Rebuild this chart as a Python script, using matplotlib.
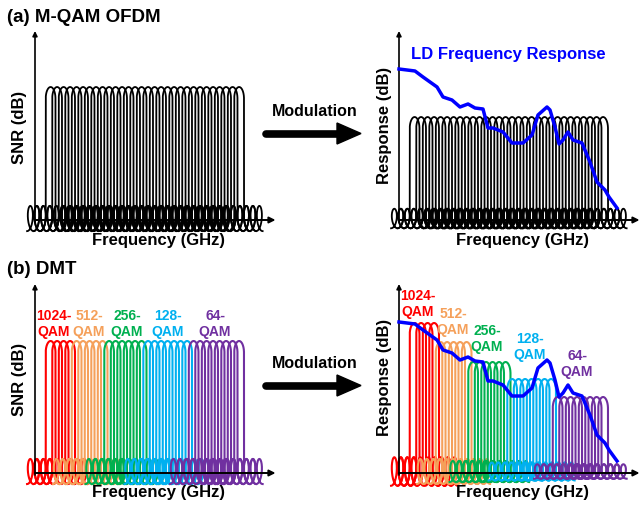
import numpy as np
import matplotlib.pyplot as plt

plt.rcParams['font.family'] = ['Liberation Sans', 'DejaVu Sans']
plt.rcParams['font.weight'] = 'bold'

# ---- data ----
n_sub = 30                      # number of OFDM subcarriers
first_sub = 2.4                 # centre of first subcarrier (GHz, schematic)
snr_flat = 26.6                 # SNR level of every subcarrier, panel (a) left
resp_flat = 20.6                # level after modulation, panel (a) right
snr_dmt = 26.4                  # SNR level, panel (b) left

qam_labels = ['1024-\nQAM', '512-\nQAM', '256-\nQAM', '128-\nQAM', '64-\nQAM']
qam_counts = [4, 5, 6, 7, 8]
qam_colors = ['#FF0000', '#F5A05A', '#00B050', '#00B0F0', '#7030A0']
qam_levels = [30.0, 26.2, 22.2, 18.8, 15.2]   # bit-loaded levels, panel (b) right

# LD frequency response
ld_freq = [0, 2.46, 3.69, 5.85, 6.77, 8.15, 9.38, 10.62, 11.69, 12.92, 13.69,
           14.46, 16.0, 17.38, 19.08, 20.46, 21.38, 22.77, 23.23, 24.0, 24.62,
           25.23, 26.0, 26.77, 28.15, 29.38, 30.46, 31.69, 32.31, 33.54]
ld_resp = [30.2, 29.8, 28.6, 26.6, 24.6, 24.0, 22.6, 23.2, 22.4, 22.2, 18.4,
           18.4, 17.6, 15.4, 15.4, 17.0, 21.0, 22.6, 22.0, 18.6, 15.2,
           16.0, 17.6, 16.0, 15.4, 11.6, 7.6, 6.0, 4.6, 2.4]

W, H = 639, 507
SX, SY = 6.5, 5.0               # pixels per unit

fig = plt.figure(figsize=(W / 100, H / 100), dpi=100)


def panel(ox, oy):
    l, r, t, b = ox - 38, ox + 240, oy - 200, oy + 30
    ax = fig.add_axes([l / W, 1 - b / H, (r - l) / W, (b - t) / H])
    ax.set_xlim((l - ox) / SX, (r - ox) / SX)
    ax.set_ylim((oy - b) / SY, (oy - t) / SY)
    ax.axis('off')
    # axes with arrows
    ax.annotate('', xy=(37.0, 0), xytext=(0, 0),
                arrowprops=dict(arrowstyle='-|>', lw=1.4, color='black',
                                mutation_scale=9, shrinkA=0, shrinkB=0))
    ax.annotate('', xy=(0, 37.8), xytext=(0, -0.4),
                arrowprops=dict(arrowstyle='-|>', lw=1.2, color='black',
                                mutation_scale=7, shrinkA=0, shrinkB=0))
    return ax


def subcarrier(ax, c, h, color, lw):
    a, rx, hr, n, v = 0.75, 0.62, 2.3, 2.25, 1.0
    ry = 0.095 * h
    yc = 0.3
    t = np.linspace(0, n, 240)
    th = np.pi + 2 * np.pi * t
    xr = c + a + rx + v * t + rx * np.cos(th)
    yr = yc + ry * np.sin(th)
    xl = 2 * c - xr[::-1]
    yl = yr[::-1]
    phi = np.linspace(np.pi, 0, 80)
    xa = c + a * np.cos(phi)
    ya = h - hr + hr * np.sin(phi)
    x = np.concatenate([xl, [c - a], xa, [c + a], xr])
    y = np.concatenate([yl, [yc], ya, [yc], yr])
    ax.plot(x, y, color=color, lw=lw, clip_on=False, solid_joinstyle='round')


centres = first_sub + np.arange(n_sub)

# (a) left
ax1 = panel(35, 220)
for c in centres:
    subcarrier(ax1, c, snr_flat, 'black', 1.3)

# (a) right
ax2 = panel(399, 220)
for c in centres:
    subcarrier(ax2, c, resp_flat, 'black', 1.3)
ax2.plot(ld_freq, ld_resp, color='#0000FF', lw=2.5, clip_on=False, zorder=5)

# (b) left and right
ax3 = panel(35, 473)
ax4 = panel(399, 473)
k = 0
for cnt, col, lev in zip(qam_counts, qam_colors, qam_levels):
    for j in range(cnt):
        subcarrier(ax3, centres[k], snr_dmt, col, 1.5)
        subcarrier(ax4, centres[k], lev, col, 1.5)
        k += 1
ax4.plot(ld_freq, ld_resp, color='#0000FF', lw=2.5, clip_on=False, zorder=5)

# overlay for texts and big arrows (pixel coordinates)
ov = fig.add_axes([0, 0, 1, 1], zorder=10)
ov.set_xlim(0, W)
ov.set_ylim(H, 0)
ov.axis('off')

ov.text(7, 18, '(a) M-QAM OFDM', fontsize=13.5, va='center', ha='left')
ov.text(7, 270, '(b) DMT', fontsize=13.5, va='center', ha='left')

for dy in (0, 252):
    ov.text(20, 127 + dy, 'SNR (dB)', fontsize=12, rotation=90, va='center', ha='center')
    ov.text(385, 125 + dy, 'Response (dB)', fontsize=12, rotation=90, va='center', ha='center')
    ov.text(158, 240 + dy, 'Frequency (GHz)', fontsize=12, va='center', ha='center')
    ov.text(523, 240 + dy, 'Frequency (GHz)', fontsize=12, va='center', ha='center')
    ov.text(315, 112 + dy, 'Modulation', fontsize=11.5, va='center', ha='center')
    ov.plot([266, 340], [133.5 + dy, 133.5 + dy], color='black', lw=5.5,
            solid_capstyle='round')
    ov.fill([337, 361, 337], [123 + dy, 133.5 + dy, 144 + dy], color='black')

ov.text(411, 55, 'LD Frequency Response', fontsize=12, color='#0000FF',
        va='center', ha='left')

# DMT labels
lx_left = [54, 89, 127, 168, 215]
for lab, col, x in zip(qam_labels, qam_colors, lx_left):
    ov.text(x, 324, lab, fontsize=10, color=col, ha='center', va='center',
            linespacing=1.15)
lx_right = [418, 453, 487, 530, 577]
ly_right = [304, 322, 339, 347, 364]
for lab, col, x, y in zip(qam_labels, qam_colors, lx_right, ly_right):
    ov.text(x, y, lab, fontsize=10, color=col, ha='center', va='center',
            linespacing=1.15)

fig.savefig('out.png', dpi=100)
